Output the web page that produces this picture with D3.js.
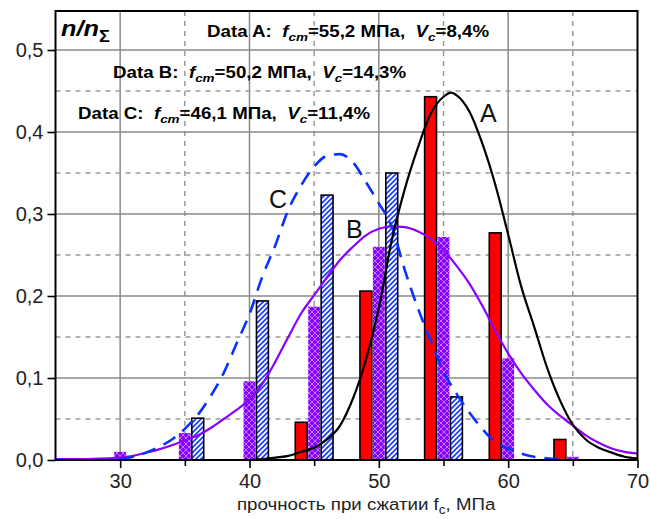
<!DOCTYPE html>
<html>
<head>
<meta charset="utf-8">
<script src="https://cdn.jsdelivr.net/npm/d3@7"></script>
<style>
    body { margin: 0; background: #ffffff; }
    svg { display: block; font-family: "Liberation Sans", Arial, sans-serif; }
</style>
</head>
<body>
<div id="chartContainerId"></div>
<script>

// Strength histogram data (share of samples per 5 MPa bin)

var binCenters = [30, 35, 40, 45, 50, 55, 60, 65];
var valuesA = [0, 0, 0, 0.046, 0.206, 0.443, 0.277, 0.025];
var valuesB = [0.010, 0.033, 0.096, 0.187, 0.260, 0.272, 0.124, 0.004];
var valuesC = [0, 0.051, 0.194, 0.323, 0.350, 0.077, 0, 0];

// Fitted curves as [strength, share]

var curveA = [[40, 0], [41, 0.001], [42, 0.003], [43, 0.005], [44, 0.010], [45, 0.015], [46, 0.025],
              [47, 0.042], [48, 0.075], [49, 0.122], [50, 0.185], [51, 0.268], [52, 0.330], [53, 0.380],
              [54, 0.422], [55, 0.443], [55.6, 0.448], [56, 0.445], [57, 0.425], [58, 0.386], [59, 0.336],
              [60, 0.275], [61, 0.212], [62, 0.163], [63, 0.113], [64, 0.073], [65, 0.043], [66, 0.025],
              [67, 0.015], [68, 0.009], [69, 0.004], [70, 0.002]];

var curveB = [[25, 0.001], [27, 0.001], [29, 0.002], [30, 0.003], [31, 0.005], [32, 0.009], [33, 0.013],
              [34, 0.018], [35, 0.024], [36, 0.030], [37, 0.039], [38, 0.050], [39, 0.061], [40, 0.074],
              [41, 0.093], [42, 0.120], [43, 0.150], [44, 0.179], [45, 0.201], [46, 0.223], [47, 0.244],
              [48, 0.260], [49, 0.274], [50, 0.282], [51, 0.285], [52, 0.284], [53, 0.279], [54, 0.270],
              [55, 0.256], [56, 0.237], [57, 0.215], [58, 0.188], [59, 0.158], [60, 0.130], [61, 0.106],
              [62, 0.086], [63, 0.068], [64, 0.054], [65, 0.042], [66, 0.030], [67, 0.021], [68, 0.014],
              [69, 0.010], [70, 0.008]];

var curveC = [[30, 0.001], [31, 0.004], [32, 0.009], [33, 0.016], [34, 0.025], [35, 0.038], [36, 0.055],
              [37, 0.078], [38, 0.106], [39, 0.142], [40, 0.178], [41, 0.224], [42, 0.262], [43, 0.305],
              [44, 0.335], [45, 0.358], [46, 0.371], [47, 0.373], [48, 0.363], [49, 0.339], [50, 0.313],
              [51, 0.285], [52, 0.232], [53, 0.186], [54, 0.146], [55, 0.108], [56, 0.081], [57, 0.058],
              [58, 0.038], [59, 0.022], [60, 0.014], [61, 0.008], [62, 0.004], [63, 0.002], [64, 0.001]];

var xMajorTicks = [30, 40, 50, 60, 70];
var xMinorTicks = [35, 45, 55, 65];
var yMajorTicks = [0, 0.1, 0.2, 0.3, 0.4, 0.5];
var yMinorTicks = [0.05, 0.15, 0.25, 0.35, 0.45];


(function() {

    "use strict";

    var full = {w: 651, h: 519};
    var plot = {left: 55.5, right: 637.5, top: 11, bottom: 460};

    var xScale = d3.scaleLinear().domain([25, 70]).range([plot.left, plot.right]);
    var yScale = d3.scaleLinear().domain([0, 449 / 820]).range([plot.bottom, plot.top]);

    var svg = d3.select("#chartContainerId")
        .append("svg")
        .attr("width", full.w)
        .attr("height", full.h);

    definePatterns(svg);
    drawGrid(svg);
    drawBars(svg);
    drawCurves(svg);
    drawFrameAndAxes(svg);
    drawLabels(svg);


    function definePatterns(svg) {
        var defs = svg.append("defs");

        // purple cross hatch
        var cross = defs.append("pattern")
            .attr("id", "crossB")
            .attr("patternUnits", "userSpaceOnUse")
            .attr("width", 6).attr("height", 6);
        cross.append("rect").attr("width", 6).attr("height", 6).attr("fill", "#8800ff");
        cross.append("path")
            .attr("d", "M0,0 L6,6 M6,0 L0,6")
            .attr("stroke", "#d2acff").attr("stroke-width", 0.7).attr("fill", "none");

        // blue diagonal hatch
        var hatch = defs.append("pattern")
            .attr("id", "hatchC")
            .attr("patternUnits", "userSpaceOnUse")
            .attr("width", 5).attr("height", 5);
        hatch.append("rect").attr("width", 5).attr("height", 5).attr("fill", "#ffffff");
        hatch.append("path")
            .attr("d", "M-1,6 L6,-1 M-1,1 L1,-1 M4,6 L6,4")
            .attr("stroke", "#1a3cff").attr("stroke-width", 1.7).attr("fill", "none");

        defs.append("clipPath").attr("id", "plotClip")
            .append("rect")
            .attr("x", plot.left).attr("y", plot.top)
            .attr("width", plot.right - plot.left).attr("height", plot.bottom - plot.top);
    }


    function drawGrid(svg) {
        var grid = svg.append("g").attr("class", "grid");

        grid.selectAll("line.vmaj").data(xMajorTicks.slice(0, -1)).enter().append("line")
            .attr("x1", function(d) { return xScale(d); }).attr("x2", function(d) { return xScale(d); })
            .attr("y1", plot.top).attr("y2", plot.bottom)
            .attr("stroke", "#8a8a8a").attr("stroke-width", 1.5);

        grid.selectAll("line.vmin").data(xMinorTicks).enter().append("line")
            .attr("x1", function(d) { return xScale(d); }).attr("x2", function(d) { return xScale(d); })
            .attr("y1", plot.top).attr("y2", plot.bottom)
            .attr("stroke", "#9a9a9a").attr("stroke-width", 1.5).attr("stroke-dasharray", "5,5");

        grid.selectAll("line.hmaj").data(yMajorTicks.slice(1)).enter().append("line")
            .attr("x1", plot.left).attr("x2", plot.right)
            .attr("y1", function(d) { return yScale(d); }).attr("y2", function(d) { return yScale(d); })
            .attr("stroke", "#8a8a8a").attr("stroke-width", 1.5);

        grid.selectAll("line.hmin").data(yMinorTicks).enter().append("line")
            .attr("x1", plot.left).attr("x2", plot.right)
            .attr("y1", function(d) { return yScale(d); }).attr("y2", function(d) { return yScale(d); })
            .attr("stroke", "#9a9a9a").attr("stroke-width", 1.5).attr("stroke-dasharray", "5,5");
    }


    function drawBars(svg) {
        var series = [
            {values: valuesA, offset: -1, fill: "#ff0000", stroke: "#000000"},
            {values: valuesB, offset: 0, fill: "url(#crossB)", stroke: "none"},
            {values: valuesC, offset: 1, fill: "url(#hatchC)", stroke: "#000000"}
        ];

        var barsGroup = svg.append("g").attr("class", "bars");

        series.forEach(function(s) {
            barsGroup.append("g").selectAll("rect")
                .data(binCenters.map(function(c, i) { return {c: c, v: s.values[i]}; })
                                .filter(function(d) { return d.v > 0; }))
                .enter()
                .append("rect")
                  .attr("x", function(d) { return xScale(d.c + s.offset - 0.46); })
                  .attr("width", xScale(25.92) - xScale(25))
                  .attr("y", function(d) { return yScale(d.v); })
                  .attr("height", function(d) { return yScale(0) - yScale(d.v); })
                  .attr("fill", s.fill)
                  .attr("stroke", s.stroke)
                  .attr("stroke-width", 1.6);
        });
    }


    function drawCurves(svg) {
        var line = d3.line()
            .x(function(d) { return xScale(d[0]); })
            .y(function(d) { return yScale(d[1]); })
            .curve(d3.curveMonotoneX);

        var curves = svg.append("g").attr("clip-path", "url(#plotClip)");

        curves.append("path").datum(curveB).attr("d", line)
            .attr("fill", "none").attr("stroke", "#8b00ff").attr("stroke-width", 2.2);

        curves.append("path").datum(curveC).attr("d", line)
            .attr("fill", "none").attr("stroke", "#0a32ff").attr("stroke-width", 2.6)
            .attr("stroke-dasharray", "14,9");

        curves.append("path").datum(curveA).attr("d", line)
            .attr("fill", "none").attr("stroke", "#000000").attr("stroke-width", 2.2);
    }


    function drawFrameAndAxes(svg) {
        var fmt = function(d) { return d3.format(".1f")(d).replace(".", ","); };

        var yAxis = svg.append("g")
            .attr("transform", "translate(" + plot.left + ",0)")
            .call(d3.axisLeft(yScale).tickValues(yMajorTicks).tickSize(8).tickPadding(4).tickFormat(fmt));

        var xAxis = svg.append("g")
            .attr("transform", "translate(0," + plot.bottom + ")")
            .call(d3.axisBottom(xScale).tickValues(xMajorTicks).tickSize(8).tickPadding(6).tickFormat(d3.format("d")));

        var xMinor = svg.append("g")
            .attr("transform", "translate(0," + plot.bottom + ")")
            .call(d3.axisBottom(xScale).tickValues(xMinorTicks).tickSize(6).tickFormat(""));

        [yAxis, xAxis, xMinor].forEach(function(a) {
            a.select(".domain").remove();
            a.selectAll(".tick line").attr("stroke", "#000").attr("stroke-width", 1.6);
        });

        yAxis.selectAll("text").attr("font-size", 20).attr("fill", "#222").attr("font-family", "Liberation Sans, Arial, sans-serif");
        xAxis.selectAll("text").attr("font-size", 20).attr("fill", "#222").attr("font-family", "Liberation Sans, Arial, sans-serif");

        svg.append("rect")
            .attr("x", plot.left).attr("y", plot.top)
            .attr("width", plot.right - plot.left).attr("height", plot.bottom - plot.top)
            .attr("fill", "none").attr("stroke", "#000").attr("stroke-width", 2);
    }


    // text made of parts; sub parts are lowered and smaller
    function richText(svg, x, y, sx, size, weight, parts) {
        var t = svg.append("text")
            .attr("transform", "translate(" + x + "," + y + ") scale(" + sx + ",1)")
            .attr("font-size", size)
            .attr("font-weight", weight)
            .style("white-space", "pre");
        var lowered = false;
        parts.forEach(function(p) {
            var ts = t.append("tspan").text(p.t);
            if (p.italic) { ts.attr("font-style", "italic"); }
            if (p.sub && !lowered) { ts.attr("dy", size * 0.25); lowered = true; }
            if (!p.sub && lowered) { ts.attr("dy", -size * 0.25); lowered = false; }
            if (p.sub) { ts.attr("font-size", size * 0.72); }
        });
        return t;
    }


    function drawLabels(svg) {
        richText(svg, 61, 36, 1.15, 22, "bold", [
            {t: "n/n", italic: true}, {t: "Σ", sub: true}
        ]);

        var dataLines = [
            {x: 207, y: 37, name: "Data A:  ", fcm: "=55,2 МПа,  ", vc: "=8,4%"},
            {x: 113, y: 78, name: "Data B:  ", fcm: "=50,2 МПа,  ", vc: "=14,3%"},
            {x: 78, y: 119, name: "Data C:  ", fcm: "=46,1 МПа,  ", vc: "=11,4%"}
        ];
        dataLines.forEach(function(d) {
            richText(svg, d.x, d.y, 1.17, 16, "bold", [
                {t: d.name},
                {t: "f", italic: true}, {t: "cm", italic: true, sub: true},
                {t: d.fcm},
                {t: "V", italic: true}, {t: "c", italic: true, sub: true},
                {t: d.vc}
            ]);
        });

        var curveLabels = [{t: "A", x: 480, y: 122}, {t: "B", x: 346, y: 238}, {t: "C", x: 269, y: 208}];
        svg.selectAll("text.curveLabel").data(curveLabels).enter().append("text")
            .attr("class", "curveLabel")
            .attr("x", function(d) { return d.x; }).attr("y", function(d) { return d.y; })
            .attr("font-size", 25).attr("fill", "#111")
            .text(function(d) { return d.t; });

        richText(svg, 237, 510, 1.1, 17, "normal", [
            {t: "прочность при сжатии f"}, {t: "c", sub: true}, {t: ", МПа"}
        ]).attr("fill", "#222");
    }

})();

</script>
</body>
</html>
